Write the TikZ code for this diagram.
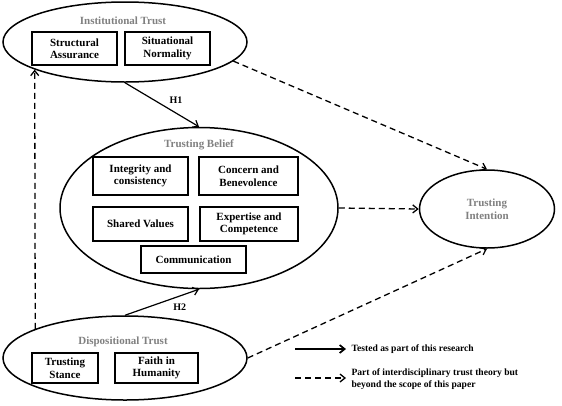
\documentclass[tikz,border=0pt]{standalone}
\usepackage{fontspec}
\setmainfont{Liberation Serif}
\usetikzlibrary{shapes.geometric,arrows.meta}
\tikzset{
  trustellipse/.style={draw, ellipse, line width=1.5pt, inner sep=0pt},
  itembox/.style={draw, line width=1.2pt, align=center, inner sep=1pt,
    font=\bfseries\fontsize{11}{12.5}\selectfont},
  headlabel/.style={text=gray, font=\bfseries\fontsize{11}{12.5}\selectfont},
  hyp/.style={line width=1.2pt, -{Straight Barb[length=5pt,width=8pt]}},
  beyond/.style={line width=1.3pt, dash pattern=on 6pt off 4pt, -{Straight Barb[length=5pt,width=8pt]}}
}
\begin{document}
\begin{tikzpicture}[x=1pt,y=-1pt]
\useasboundingbox (0,0) rectangle (562,405);

% the four constructs
\node[trustellipse, minimum width=244, minimum height=80] (inst) at (125,42) {};
\node[trustellipse, minimum width=278, minimum height=161] (belief) at (199,208) {};
\node[trustellipse, minimum width=244, minimum height=84] (disp) at (125,358) {};
\node[trustellipse, minimum width=135, minimum height=78, align=center,
  text=gray, font=\bfseries\fontsize{11}{12.5}\selectfont] (intent) at (487,209) {Trusting\\Intention};

% institutional trust
\node[headlabel] (instlabel) at (123,21) {Institutional Trust};
\node[itembox, minimum width=85, minimum height=33] (struct) at (74.5,48.5) {Structural\\Assurance};
\node[itembox, minimum width=85, minimum height=33] (situ) at (167.5,48.5) {Situational\\Normality};

% trusting belief
\node[headlabel] (belieflabel) at (199,145) {Trusting Belief};
\node[itembox, minimum width=95, minimum height=38] (integ) at (140.5,176) {Integrity and\\consistency};
\node[itembox, minimum width=99, minimum height=38] (concern) at (248.5,176) {Concern and\\Benevolence};
\node[itembox, minimum width=95, minimum height=34] (shared) at (140.5,224) {Shared Values};
\node[itembox, minimum width=98, minimum height=34] (expert) at (249,224) {Expertise and\\Competence};
\node[itembox, minimum width=105, minimum height=27] (comm) at (193.5,259.5) {Communication};

% dispositional trust
\node[headlabel] (displabel) at (123,342) {Dispositional Trust};
\node[itembox, minimum width=66, minimum height=30] (stance) at (65,368) {Trusting\\Stance};
\node[itembox, minimum width=83, minimum height=30] (faith) at (156.5,368) {Faith in\\Humanity};

% hypotheses
\draw[hyp] (inst.south) -- node[pos=0.55, above right, font=\bfseries\fontsize{10}{12}\selectfont] {H1} (belief.north);
\draw[hyp] (disp.north) -- node[pos=0.6, below right, font=\bfseries\fontsize{10}{12}\selectfont] {H2} (belief.south);

% links beyond this paper
\draw[beyond] (disp.162.5) -- (inst.197.5);
\draw[beyond] (inst.-10) -- (intent.north);
\draw[beyond] (belief.east) -- (intent.west);
\draw[beyond] (disp.east) -- (intent.south);

% legend
\coordinate (solidA) at (295,349);
\coordinate (solidB) at (346,349);
\coordinate (dashA) at (295,378);
\coordinate (dashB) at (346,378);
\draw[hyp, line width=1.7pt] (solidA) -- (solidB);
\draw[beyond] (dashA) -- (dashB);
\node[anchor=west, font=\bfseries\fontsize{9.6}{11.5}\selectfont] (solidtext) at (348,349) {Tested as part of this research};
\node[anchor=west, align=left, font=\bfseries\fontsize{9.6}{11.5}\selectfont] (dashtext) at (348,379) {Part of interdisciplinary trust theory but\\beyond the scope of this paper};
\end{tikzpicture}
\end{document}
